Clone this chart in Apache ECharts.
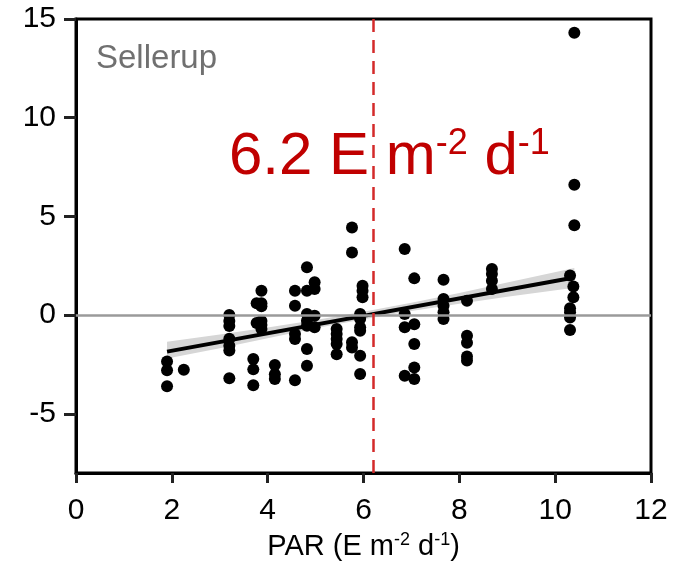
<!DOCTYPE html>
<html>
<head>
<meta charset="utf-8">
<script src="https://cdn.jsdelivr.net/npm/echarts@6/dist/echarts.min.js"></script>
<style>html,body{margin:0;padding:0;background:#fff}#c{width:679px;height:562px}</style>
</head>
<body>
<div id="c"></div>
<script>
// PAR values (x) and residuals (y)
const parX = [
  1.9,1.9,1.9, 2.25,
  3.2,3.2,3.2,3.2,3.2,3.2,3.2,
  3.7,3.7,3.7,
  3.87,3.87,3.87,3.87,3.87,3.87,3.77,3.77,
  4.15,4.15,4.15,
  4.57,4.57,4.57,4.57,4.57,
  4.82,4.82,4.82,4.82,4.82,4.82,4.82,
  4.98,4.98,4.98,4.98,
  5.44,5.44,5.44,5.44,5.44,
  5.76,5.76,5.76,5.76,
  5.98,5.98,5.98,5.93,5.93,5.93,5.93,5.93,5.93,
  6.86,6.86,6.86,6.86,
  7.06,7.06,7.06,7.06,7.06,
  7.67,7.67,7.67,7.67,7.67,
  8.16,8.16,8.16,8.16,8.16,
  8.68,8.68,8.68,8.68,
  10.31,10.31,10.31,10.31,10.31,
  10.38,10.38,
  10.4,10.4,10.4
];
const resid = [
  -2.35,-2.8,-3.6, -2.77,
  0.0,-0.3,-0.55,-1.2,-1.55,-1.8,-3.2,
  -2.23,-2.75,-3.55,
  1.23,0.6,0.45,-0.3,-0.5,-0.7,0.6,-0.4,
  -2.53,-3.0,-3.24,
  1.23,0.47,-0.96,-1.21,-3.3,
  2.42,1.23,0.05,-0.29,-0.54,-1.72,-2.57,
  1.66,1.32,-0.03,-0.62,
  -0.71,-0.96,-1.21,-1.47,-1.98,
  4.44,3.17,-1.38,-1.64,
  1.49,1.23,0.9,0.05,-0.2,-0.62,-0.79,-2.06,-2.99,
  3.35,0.05,-0.62,-3.07,
  1.86,-0.46,-1.47,-2.65,-3.24,
  1.79,0.81,0.47,0.14,-0.2,
  0.72,-1.05,-1.4,-2.1,-2.3,
  2.33,2.08,1.74,1.32,
  2.0,0.35,0.14,-0.12,-0.75,
  1.45,0.9,
  14.3,6.6,4.55
];
// fitted line and confidence band
const fitX = [1.9, 10.4];
const fitY = [-1.85, 1.9];
const bandX = [1.9, 3, 4, 5, 6, 7, 8, 9, 10.4];
const bandLower = [-2.2, -1.68, -1.17, -0.67, -0.21, 0.21, 0.58, 0.93, 1.38];
const bandUpper = [-1.35, -0.98, -0.63, -0.25, 0.17, 0.63, 1.12, 1.65, 2.38];
const threshold = 6.2;
const xTicks = [0, 2, 4, 6, 8, 10, 12];
const yTicks = [-5, 0, 5, 10, 15];

const FONT = 'Liberation Sans, Arial, sans-serif';
const chart = echarts.init(document.getElementById('c'), null, {renderer: 'canvas'});
const points = parX.map((x, i) => [x, resid[i]]);

chart.setOption({
  animation: false,
  grid: {left: 76, right: 28, top: 19, bottom: 89, show: true, borderColor: '#000', borderWidth: 3, backgroundColor: 'transparent', outerBoundsMode: 'none', containLabel: false},
  xAxis: {
    type: 'value', min: 0, max: 12, interval: 2,
    axisLine: {show: true, onZero: false, lineStyle: {color: '#000', width: 3}},
    axisTick: {show: true, inside: false, length: 10, lineStyle: {color: '#222', width: 3}},
    splitLine: {show: false},
    axisLabel: {color: '#000', fontSize: 30, fontFamily: FONT, margin: 23, customValues: xTicks},
    name: '{n|PAR (E m}{s|-2}{n| d}{s|-1}{n|)}',
    nameLocation: 'middle', nameGap: 58,
    nameTextStyle: {
      fontFamily: FONT, color: '#000',
      rich: {
        n: {fontSize: 29, fontFamily: FONT, color: '#000', lineHeight: 32},
        s: {fontSize: 18, fontFamily: FONT, color: '#000', verticalAlign: 'top', lineHeight: 18}
      }
    }
  },
  yAxis: {
    type: 'value', min: -8, max: 15,
    axisLine: {show: true, onZero: false, lineStyle: {color: '#000', width: 3}},
    axisTick: {show: true, inside: false, length: 12, lineStyle: {color: '#222', width: 3}, customValues: yTicks},
    splitLine: {show: false},
    axisLabel: {color: '#000', fontSize: 30, fontFamily: FONT, margin: 20, customValues: yTicks}
  },
  series: [
    {
      type: 'custom', z: 1, silent: true, data: [0],
      renderItem: function (params, api) {
        const pts = [];
        for (let i = 0; i < bandX.length; i++) pts.push(api.coord([bandX[i], bandUpper[i]]));
        for (let i = bandX.length - 1; i >= 0; i--) pts.push(api.coord([bandX[i], bandLower[i]]));
        return {type: 'polygon', shape: {points: pts}, style: {fill: '#d6d6d6'}};
      }
    },
    {
      type: 'line', z: 2, silent: true, data: [],
      markLine: {
        silent: true, symbol: 'none', label: {show: false},
        data: [
          {yAxis: 0, lineStyle: {color: '#9a9a9a', width: 2.5, type: 'solid'}},
          {xAxis: threshold, lineStyle: {color: '#d42a2a', width: 2.5, type: [13, 8]}}
        ]
      }
    },
    {
      type: 'line', z: 3, silent: true, symbol: 'none',
      data: fitX.map((x, i) => [x, fitY[i]]),
      lineStyle: {color: '#000', width: 4}
    },
    {
      type: 'scatter', z: 4, symbol: 'circle', symbolSize: 12,
      itemStyle: {color: '#000', opacity: 1},
      data: points
    }
  ],
  graphic: [
    {
      type: 'text', left: 96, top: 42,
      style: {text: 'Sellerup', fill: '#707070', fontSize: 33, fontFamily: FONT}
    },
    {
      type: 'text', left: 229, top: 126,
      style: {
        text: '{a|6.2 E m}{b|-2}{a| d}{b|-1}',
        rich: {
          a: {fontSize: 60, fontFamily: FONT, fill: '#c00000', color: '#c00000', lineHeight: 62},
          b: {fontSize: 36, fontFamily: FONT, fill: '#c00000', color: '#c00000', verticalAlign: 'top', lineHeight: 36}
        }
      }
    }
  ]
});
</script>
</body>
</html>
